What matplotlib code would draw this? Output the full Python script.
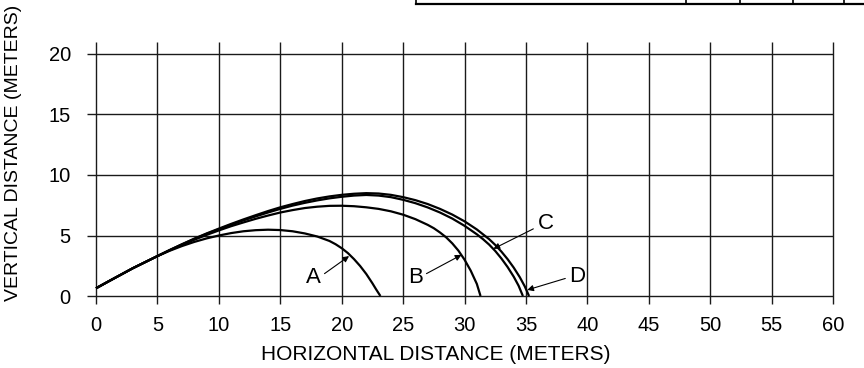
import matplotlib
matplotlib.use("Agg")
import matplotlib.pyplot as plt
from matplotlib.lines import Line2D

plt.rcParams['font.family'] = ['Liberation Sans', 'DejaVu Sans']

# trajectory readings (horizontal m, vertical m)
ax_A = [0, 1, 2, 3, 4, 5, 6, 7, 8, 9, 10, 11, 12, 13, 14, 15, 16, 17, 18, 19,
        19.5, 20, 20.5, 21, 21.5, 22, 22.5, 22.8, 23.15]
ay_A = [0.64, 1.2, 1.75, 2.3, 2.8, 3.3, 3.74, 4.13, 4.47, 4.76, 5.0, 5.2, 5.35, 5.44, 5.48, 5.45, 5.35, 5.17, 4.92, 4.55,
        4.28, 3.95, 3.55, 3.05, 2.48, 1.82, 1.05, 0.55, 0]

bx_B = [0, 1, 2, 3, 4, 5, 6, 7, 8, 9, 10, 11, 12, 13, 14, 15, 16, 17, 18, 19, 20, 21, 22, 23, 24, 25,
        26, 27, 27.5, 28, 28.5, 29, 29.5, 30, 30.5, 31, 31.3]
by_B = [0.64, 1.2, 1.75, 2.3, 2.8, 3.3, 3.78, 4.22, 4.65, 5.05, 5.42, 5.77, 6.08, 6.38, 6.65, 6.9, 7.1, 7.27, 7.38, 7.45, 7.46, 7.42, 7.33, 7.2, 7.0, 6.72,
        6.35, 5.88, 5.6, 5.25, 4.85, 4.35, 3.75, 3.0, 2.1, 1.0, 0]

cx_C = [0, 1, 2, 3, 4, 5, 6, 7, 8, 9, 10, 11, 12, 13, 14, 15, 16, 17, 18, 19, 20, 21, 22, 23, 24, 25,
        26, 27, 28, 29, 30, 31, 31.5, 32, 32.5, 33, 33.5, 34, 34.4, 34.75]
cy_C = [0.64, 1.2, 1.75, 2.3, 2.8, 3.3, 3.8, 4.27, 4.72, 5.14, 5.52, 5.9, 6.25, 6.58, 6.9, 7.2, 7.47, 7.7, 7.9, 8.07, 8.2, 8.3, 8.35, 8.3, 8.17, 7.95,
        7.67, 7.32, 6.9, 6.4, 5.8, 5.1, 4.7, 4.25, 3.72, 3.1, 2.4, 1.6, 0.85, 0]

dx_D = [0, 1, 2, 3, 4, 5, 6, 7, 8, 9, 10, 11, 12, 13, 14, 15, 16, 17, 18, 19, 20, 21, 22, 23, 24, 25,
        26, 27, 28, 29, 30, 31, 32, 32.5, 33, 33.5, 34, 34.5, 34.9, 35.25]
dy_D = [0.64, 1.2, 1.75, 2.3, 2.8, 3.3, 3.8, 4.28, 4.74, 5.17, 5.57, 5.96, 6.33, 6.68, 7.02, 7.33, 7.6, 7.85, 8.06, 8.23, 8.36, 8.45, 8.5, 8.47, 8.36, 8.17,
        7.92, 7.6, 7.2, 6.73, 6.17, 5.5, 4.7, 4.22, 3.67, 3.05, 2.35, 1.55, 0.8, 0]

xticks = [0, 5, 10, 15, 20, 25, 30, 35, 40, 45, 50, 55, 60]
yticks = [0, 5, 10, 15, 20]

# label text position, arrow tail, arrow tip
labels = ['A', 'B', 'C', 'D']
label_xy = [(17.7, 1.5), (26.0, 1.5), (36.6, 6.0), (39.2, 1.6)]
tail_xy = [(18.6, 1.85), (26.9, 1.85), (35.6, 5.55), (38.2, 1.45)]
tip_xy = [(20.6, 3.3), (29.75, 3.4), (32.35, 3.9), (35.1, 0.5)]

fig = plt.figure(figsize=(8.64, 3.68), dpi=100)
ax = fig.add_axes([0.1012, 0.1726, 0.863, 0.7136])
ax.set_xlim(-0.7, 60)
ax.set_ylim(-0.7, 21.0)
for s in ax.spines.values():
    s.set_visible(False)

ax.vlines(xticks, -0.7, 21.0, color='#1a1a1a', lw=1.0, clip_on=False)
ax.hlines(yticks, -0.7, 60, color='#1a1a1a', lw=1.0, clip_on=False)

for xs, ys in [(ax_A, ay_A), (bx_B, by_B), (cx_C, cy_C), (dx_D, dy_D)]:
    ax.plot(xs, ys, color='black', lw=1.6, solid_capstyle='butt', solid_joinstyle='round')

for lab, lxy, txy, pxy in zip(labels, label_xy, tail_xy, tip_xy):
    ax.text(lxy[0], lxy[1], lab, fontsize=16, ha='center', va='center')
    ax.annotate('', xy=pxy, xytext=txy,
                arrowprops=dict(arrowstyle='-|>', lw=0.8, color='black',
                                mutation_scale=9, shrinkA=0, shrinkB=0))

ax.set_xticks(xticks)
ax.set_xticklabels([str(v) for v in xticks], fontsize=14.5)
ax.set_yticks(yticks)
ax.set_yticklabels([str(v) for v in yticks], fontsize=14.5)
ax.tick_params(axis='x', length=0, pad=8)
ax.tick_params(axis='y', length=0, pad=12)

fig.text(436 / 864, 1 - 355 / 368, 'HORIZONTAL DISTANCE (METERS)', fontsize=15,
         ha='center', va='center')
fig.text(14 / 864, 1 - 153 / 368, 'VERTICAL DISTANCE (METERS)', fontsize=14,
         ha='center', va='center', rotation=90)

# fragment of the table above the chart
W, H = 864, 368
fig.add_artist(Line2D([416 / W, 1.0], [1 - 4 / H, 1 - 4 / H], color='black', lw=1.6))
for px in [416, 686, 740, 793, 844]:
    fig.add_artist(Line2D([px / W, px / W], [1.0, 1 - 4 / H], color='black', lw=1.2))

fig.savefig('out.png', dpi=100)
